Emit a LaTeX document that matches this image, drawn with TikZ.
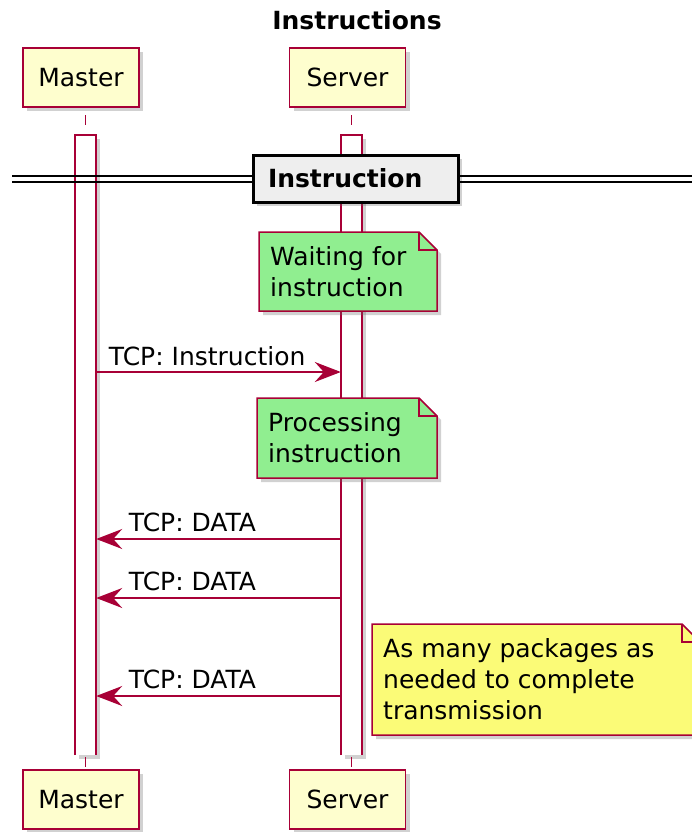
\documentclass[tikz,border=0pt]{standalone}
\usepackage{fontspec}
\setmainfont{DejaVu Sans}
\usetikzlibrary{arrows.meta,shadows,positioning}
\definecolor{umlred}{HTML}{A80036}
\definecolor{umlbeige}{HTML}{FEFECE}
\definecolor{notegreen}{HTML}{90EE90}
\definecolor{noteyellow}{HTML}{FBFB77}
\definecolor{divgray}{HTML}{EEEEEE}
\tikzset{
  umlshadow/.style={ drop shadow={shadow xshift=4pt, shadow yshift=-4pt, opacity=0.3, fill=black!60} }
}
\tikzset{
  actor/.style={ draw=umlred, fill=umlbeige, line width=1.8pt, minimum width=116pt, minimum height=59pt, umlshadow }
}
\tikzset{
  actbar/.style={ fill=white, minimum width=21pt, minimum height=620pt, inner sep=0pt, umlshadow },
  barline/.style={ draw=umlred, line width=1.8pt }
}
\tikzset{
  lifeline/.style={ draw=umlred, line width=1.5pt, dash pattern=on 10pt off 10pt }
}
\tikzset{
  notebody/.style={ draw=umlred, line width=1.5pt, line join=miter, umlshadow },
  notefold/.style={ draw=umlred, line width=1.5pt },
  notetext/.style={ align=left, inner sep=0pt }
}
\tikzset{
  divbox/.style={ draw=black, fill=divgray, line width=3pt, text width=175pt, align=left, inner xsep=15pt, minimum height=47pt, font=\fontsize{25}{31}\selectfont\bfseries, umlshadow },
  divline/.style={ draw=black, line width=2pt }
}
\tikzset{
  msg/.style={ draw=umlred, line width=1.5pt, -{Stealth[length=26pt, width=20pt, inset=9pt]} },
  msglbl/.style={ inner sep=0pt }
}
% note with a folded corner: name, x1, y1, x2, y2, colour, text
\newcommand{\umlnote}[7]{%
  \filldraw[notebody, fill=#6] (#2,#3) -- ({#4-18},#3) -- (#4,{#3+18}) -- (#4,#5) -- (#2,#5) -- cycle;
  \draw[notefold] ({#4-18},#3) -- ({#4-18},{#3+18}) -- (#4,{#3+18});
  \node[notetext, anchor=west] (#1) at ({#2+11},{(#3+#5)/2}) {#7};
}
\begin{document}
\begin{tikzpicture}[x=1pt, y=-1pt, font=\fontsize{25}{31}\selectfont]
  \useasboundingbox (0,0) rectangle (692,832);
  \node[font=\fontsize{25}{31}\selectfont\bfseries] (title) at (357,20) {Instructions};
  % participants
  \node[actor] (master) at (81,77.5) {Master};
  \node[actor] (server) at (347.5,77.5) {Server};
  \node[actor] (masterB) at (81,799.5) {Master};
  \node[actor] (serverB) at (347.5,799.5) {Server};
  % activations
  \node[actbar] (mbar) at (85.5,445) {};
  \node[actbar] (sbar) at (351.5,445) {};
  \foreach \b in {mbar,sbar}
    \draw[barline] (\b.south west) -- (\b.north west) -- (\b.north east) -- (\b.south east);
  \draw[lifeline, dash phase=10pt] (mbar.north) -- (mbar.north |- master.south);
  \draw[lifeline, dash phase=10pt] (sbar.north) -- (sbar.north |- server.south);
  \draw[lifeline, dash phase=18pt] (mbar.south) -- (mbar.south |- masterB.north);
  \draw[lifeline, dash phase=18pt] (sbar.south) -- (sbar.south |- serverB.north);
  % divider
  \node[divbox] (sep) at (355.5,178.5) {Instruction};
  \foreach \y in {176,182} {
    \draw[divline] (12,\y) -- (sep.west |- 0,\y);
    \draw[divline] (sep.east |- 0,\y) -- (700,\y);
  }
  % notes and messages
  \umlnote{wait}{259}{232}{437}{311}{notegreen}{Waiting for\\instruction}
  \draw[msg] (mbar.east |- 0,372) -- node[msglbl, pos=0, anchor=base west, xshift=12pt, yshift=7pt] {TCP: Instruction} (sbar.west |- 0,372);
  \umlnote{proc}{257}{398}{437}{478}{notegreen}{Processing\\instruction}
  \foreach \y in {539,598,696}
    \draw[msg] (sbar.west |- 0,\y) -- node[msglbl, pos=1, anchor=base west, xshift=32pt, yshift=8pt] {TCP: DATA} (mbar.east |- 0,\y);
  \umlnote{many}{372}{624}{700}{735}{noteyellow}{As many packages as\\needed to complete\\transmission}
\end{tikzpicture}
\end{document}
